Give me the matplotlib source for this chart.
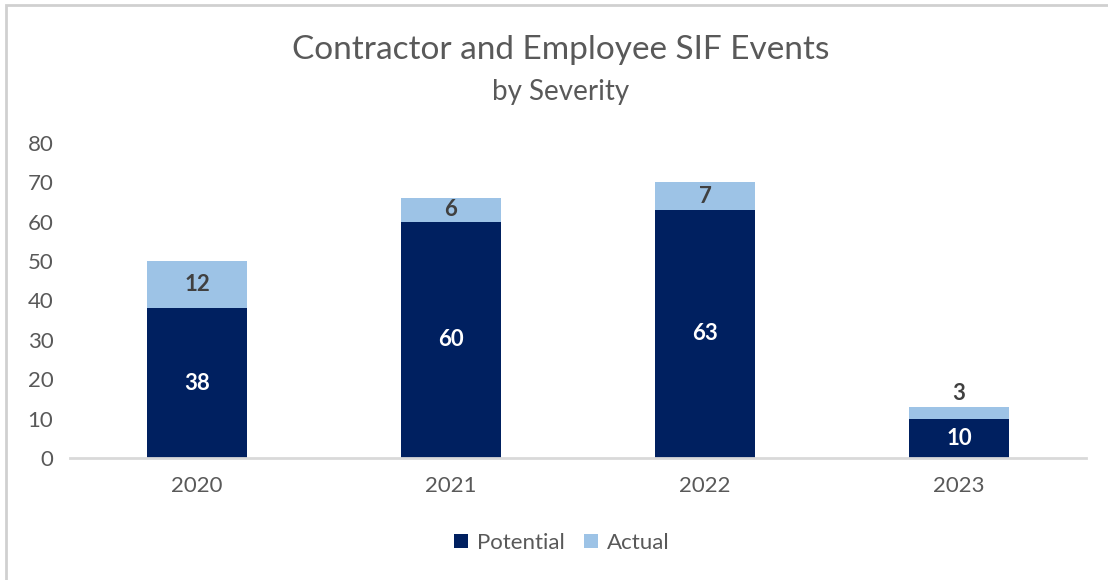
import matplotlib.pyplot as plt
from matplotlib.patches import Rectangle

years = ['2020', '2021', '2022', '2023']
potential = [38, 60, 63, 10]
actual = [12, 6, 7, 3]

navy = '#002060'
light = '#9DC3E6'
grey = '#595959'

plt.rcParams['font.family'] = ['Lato', 'DejaVu Sans']

fig = plt.figure(figsize=(11.08, 5.8), dpi=100)
ax = fig.add_axes([70 / 1108, 1 - 458 / 580, 1016 / 1108, 315 / 580])

x = range(len(years))
b1 = ax.bar(x, potential, width=0.39, color=navy, label='Potential')
b2 = ax.bar(x, actual, width=0.39, bottom=potential, color=light, label='Actual')

for i in x:
    ax.text(i, potential[i] / 2, str(potential[i]), ha='center', va='center',
            color='white', fontsize=16, fontweight='bold')
    if actual[i] >= 5:
        ax.text(i, potential[i] + actual[i] / 2, str(actual[i]), ha='center',
                va='center', color='#404040', fontsize=16, fontweight='bold')
    else:
        ax.text(i, potential[i] + actual[i] + 3.5, str(actual[i]), ha='center',
                va='center', color='#404040', fontsize=16, fontweight='bold')

ax.set_xlim(-0.5, 3.5)
ax.set_ylim(0, 80)
ax.set_yticks(range(0, 81, 10))
ax.set_xticks(list(x))
ax.set_xticklabels(years)
for s in ['top', 'right', 'left']:
    ax.spines[s].set_visible(False)
ax.spines['bottom'].set_color('#D9D9D9')
ax.spines['bottom'].set_linewidth(2)
ax.tick_params(axis='both', length=0, labelsize=16, labelcolor=grey)
ax.tick_params(axis='y', pad=12)
ax.tick_params(axis='x', pad=13)

fig.text(0.506, 1 - 50 / 580, 'Contractor and Employee SIF Events', ha='center',
         va='center', fontsize=24, color=grey)
fig.text(0.506, 1 - 92 / 580, 'by Severity', ha='center', va='center',
         fontsize=20, color=grey)

fig.legend(handles=[b1, b2], loc='center', bbox_to_anchor=(0.507, 1 - 543 / 580),
           ncol=2, frameon=False, fontsize=16, labelcolor=grey, handlelength=0.6,
           handleheight=0.6, handletextpad=0.4, columnspacing=0.9)

fig.patches.append(Rectangle((6 / 1108, -0.1), 1.2, 1 - 5 / 580 + 0.1,
                             transform=fig.transFigure, fill=False,
                             edgecolor='#D0D0D0', linewidth=2))

fig.savefig('out.png', dpi=100)
